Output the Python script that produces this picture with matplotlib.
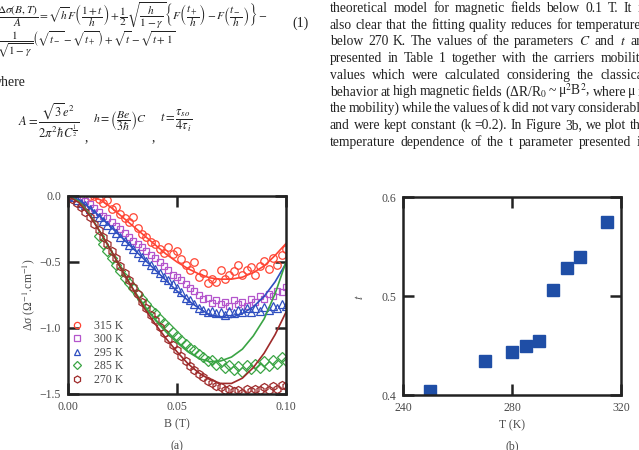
import matplotlib
matplotlib.use('Agg')
import matplotlib.pyplot as plt
from matplotlib.lines import Line2D

plt.rcParams['font.family'] = ['Liberation Serif', 'DejaVu Serif']
plt.rcParams['mathtext.fontset'] = 'stix'

W, H = 639, 450

# ---- data panel (a): conductance change vs field ----
b_data = [0.000, 0.002, 0.004, 0.006, 0.008, 0.010, 0.012, 0.014, 0.016, 0.018,
          0.020, 0.022, 0.024, 0.026, 0.028, 0.030, 0.032, 0.034, 0.036, 0.038,
          0.040, 0.042, 0.044, 0.046, 0.048, 0.050, 0.052, 0.054, 0.056, 0.058,
          0.060, 0.062, 0.064, 0.066, 0.068, 0.070, 0.072, 0.074, 0.076, 0.078,
          0.080, 0.082, 0.084, 0.086, 0.088, 0.090, 0.092, 0.094, 0.096, 0.098,
          0.100]

b_315 = b_data[5:]
s_315 = [0.00, 0.00, -0.02, -0.05, -0.03, -0.10, -0.08, -0.14, -0.17, -0.20,
         -0.16, -0.24, -0.29, -0.31, -0.35, -0.36, -0.40, -0.43, -0.39, -0.44,
         -0.42, -0.48, -0.52, -0.56, -0.50, -0.61, -0.58, -0.66, -0.63, -0.65,
         -0.56, -0.63, -0.60, -0.57, -0.52, -0.60, -0.56, -0.54, -0.60, -0.53,
         -0.49, -0.55, -0.47, -0.52, -0.45, -0.40]

b_300 = b_data[2:]
s_300 = [0.00, -0.02, -0.04, -0.06, -0.09, -0.12, -0.15, -0.17, -0.20, -0.23,
         -0.25, -0.28, -0.31, -0.34, -0.36, -0.39, -0.42, -0.45, -0.47, -0.50,
         -0.53, -0.56, -0.60, -0.61, -0.64, -0.67, -0.70, -0.72, -0.75, -0.78,
         -0.77, -0.81, -0.79, -0.82, -0.80, -0.83, -0.79, -0.82, -0.80, -0.83,
         -0.78, -0.80, -0.76, -0.78, -0.74, -0.76, -0.72, -0.73, -0.69]

b_295 = b_data
s_295 = [0.00, -0.01, -0.03, -0.05, -0.07, -0.10, -0.13, -0.16, -0.19, -0.22,
         -0.25, -0.28, -0.31, -0.34, -0.37, -0.40, -0.43, -0.46, -0.49, -0.52,
         -0.55, -0.58, -0.61, -0.64, -0.67, -0.70, -0.73, -0.77, -0.79, -0.82,
         -0.85, -0.86, -0.88, -0.87, -0.89, -0.88, -0.90, -0.87, -0.89, -0.86,
         -0.88, -0.85, -0.88, -0.85, -0.87, -0.84, -0.86, -0.83, -0.85, -0.82,
         -0.83]

b_285 = b_data[7:]
s_285 = [-0.30, -0.36, -0.42, -0.47, -0.52, -0.57, -0.62, -0.66, -0.70, -0.74,
         -0.78, -0.82, -0.86, -0.89, -0.93, -0.96, -0.99, -1.03, -1.06, -1.09,
         -1.12, -1.15, -1.17, -1.20, -1.22, -1.25, -1.24, -1.28, -1.26, -1.30,
         -1.28, -1.32, -1.29, -1.33, -1.28, -1.31, -1.27, -1.30, -1.25, -1.29,
         -1.24, -1.27, -1.22, -1.25]

b_270 = b_data
s_270 = [0.00, -0.02, -0.05, -0.08, -0.12, -0.16, -0.21, -0.26, -0.31, -0.36,
         -0.42, -0.47, -0.53, -0.58, -0.64, -0.69, -0.74, -0.80, -0.85, -0.90,
         -0.94, -0.99, -1.04, -1.08, -1.13, -1.17, -1.21, -1.25, -1.29, -1.32,
         -1.35, -1.37, -1.40, -1.42, -1.44, -1.45, -1.47, -1.46, -1.48, -1.47,
         -1.49, -1.46, -1.48, -1.46, -1.47, -1.45, -1.47, -1.44, -1.46, -1.43,
         -1.44]

# fitted curves
b_fit = [0.000, 0.005, 0.010, 0.015, 0.020, 0.025, 0.030, 0.035, 0.040, 0.045,
         0.050, 0.055, 0.060, 0.065, 0.070, 0.075, 0.080, 0.085, 0.090, 0.095,
         0.100]
f_315 = [None, None, 0.00, -0.03, -0.09, -0.16, -0.23, -0.30, -0.37, -0.44,
         -0.50, -0.55, -0.59, -0.62, -0.63, -0.63, -0.615, -0.58, -0.53, -0.45,
         -0.36]
f_295 = [0.00, -0.03, -0.09, -0.16, -0.24, -0.32, -0.40, -0.48, -0.56, -0.64,
         -0.72, -0.79, -0.85, -0.90, -0.92, -0.92, -0.89, -0.84, -0.76, -0.65,
         -0.51]
f_285 = [0.00, -0.04, -0.14, -0.28, -0.42, -0.57, -0.71, -0.83, -0.94, -1.03,
         -1.11, -1.18, -1.23, -1.255, -1.25, -1.22, -1.16, -1.06, -0.93, -0.74,
         -0.50]
f_270 = [0.00, -0.05, -0.15, -0.28, -0.42, -0.57, -0.71, -0.85, -0.97, -1.08,
         -1.18, -1.27, -1.34, -1.39, -1.42, -1.42, -1.38, -1.30, -1.19, -1.05,
         -0.88]

# ---- data panel (b): t parameter vs temperature ----
temps = [250, 270, 280, 285, 290, 295, 300, 305, 315]
t_vals = [0.404, 0.434, 0.443, 0.450, 0.455, 0.506, 0.528, 0.539, 0.575]

c_red = '#ff4433'
c_pur = '#b455cc'
c_blu = '#2f4fc0'
c_grn = '#3aa444'
c_drd = '#9e2a2a'
c_sq = '#1f4ea6'
txt_gray = '#4a4a4a'
ink = '#222222'

fig = plt.figure(figsize=(W / 100, H / 100), dpi=100)


def px(x, y):
    return x / W, 1 - y / H


def style_axes(ax):
    for s in ax.spines.values():
        s.set_linewidth(1.8)
        s.set_color(ink)
    ax.tick_params(direction='in', length=8, width=1.8, color=ink,
                   top=True, right=True, labelsize=8.5, labelcolor=txt_gray, pad=5)


# panel (a)
ax1 = fig.add_axes([68 / W, 1 - 394 / H, 218 / W, 198 / H])
ax1.plot(b_315, s_315, ls='none', marker='o', ms=5.4, mfc='none', mec=c_red, mew=0.9)
ax1.plot(b_300, s_300, ls='none', marker='s', ms=4.5, mfc='none', mec=c_pur, mew=0.9)
ax1.plot(b_295, s_295, ls='none', marker='^', ms=5.2, mfc='none', mec=c_blu, mew=0.9)
ax1.plot(b_285, s_285, ls='none', marker='D', ms=4.8, mfc='none', mec=c_grn, mew=0.9)
ax1.plot(b_270, s_270, ls='none', marker='h', ms=5.8, mfc='none', mec=c_drd, mew=0.9)
ax1.plot(b_fit[2:], f_315[2:], color=c_red, lw=1.2)
ax1.plot(b_fit, f_295, color=c_blu, lw=1.2)
ax1.plot(b_fit, f_285, color=c_grn, lw=1.2)
ax1.plot(b_fit, f_270, color=c_drd, lw=1.2)
ax1.set_xlim(0, 0.1)
ax1.set_ylim(-1.5, 0)
ax1.set_xticks([0, 0.05, 0.1])
ax1.set_xticklabels(['0.00', '0.05', '0.10'])
ax1.set_yticks([-1.5, -1.0, -0.5, 0.0])
ax1.set_yticklabels(['\u22121.5', '\u22121.0', '\u22120.5', '0.0'])
style_axes(ax1)
ax1.set_xlabel('B (T)', fontsize=8.5, color=txt_gray, labelpad=4)
ax1.set_ylabel('\u0394\u03c3 (\u03a9$^{-1}$.cm$^{-1}$)', fontsize=8.5, color=txt_gray, labelpad=2)

handles = [
    Line2D([], [], ls='none', marker='o', ms=4.5, mfc='none', mec=c_red, mew=0.9),
    Line2D([], [], ls='none', marker='s', ms=3.8, mfc='none', mec=c_pur, mew=0.9),
    Line2D([], [], ls='none', marker='^', ms=4.5, mfc='none', mec=c_blu, mew=0.9),
    Line2D([], [], ls='none', marker='D', ms=4.2, mfc='none', mec=c_grn, mew=0.9),
    Line2D([], [], ls='none', marker='h', ms=5.0, mfc='none', mec=c_drd, mew=0.9),
]
leg = ax1.legend(handles, ['315 K', '300 K', '295 K', '285 K', '270 K'],
                 loc='lower left', bbox_to_anchor=(-0.02, 0.0), frameon=False,
                 fontsize=8.5, handlelength=0.8, handletextpad=1.1,
                 labelspacing=0.12, borderaxespad=0.3)
for t in leg.get_texts():
    t.set_color(txt_gray)

# panel (b)
ax2 = fig.add_axes([403 / W, 1 - 395 / H, 218 / W, 198 / H])
ax2.plot(temps, t_vals, ls='none', marker='s', ms=8, color=c_sq)
ax2.set_xlim(240, 320)
ax2.set_ylim(0.4, 0.6)
ax2.set_xticks([240, 280, 320])
ax2.set_yticks([0.4, 0.5, 0.6])
style_axes(ax2)
ax2.set_xlabel('T (K)', fontsize=8.5, color=txt_gray, labelpad=4)
fig.text(*px(360, 297), '$t$', fontsize=9, color=txt_gray, rotation=90,
         ha='center', va='center')

fig.text(*px(177, 446), '(a)', fontsize=8.5, color=txt_gray, ha='center', va='center')
fig.text(*px(512, 446), '(b)', fontsize=8.5, color=txt_gray, ha='center', va='center')

# ---- page text above the figure ----
eq_kw = dict(color=ink, va='center', ha='left')
fig.text(*px(-3, 15),
         r'$\dfrac{\Delta\sigma(B,T)}{A}=\sqrt{h}F\left(\dfrac{1+t}{h}\right)+\dfrac{1}{2}'
         r'\sqrt{\dfrac{h}{1-\gamma}}\left\{F\left(\dfrac{t_+}{h}\right)-'
         r'F\left(\dfrac{t_-}{h}\right)\right\}-$', fontsize=8.2, **eq_kw)
fig.text(*px(-3, 44),
         r'$\dfrac{1}{\sqrt{1-\gamma}}\left(\sqrt{t_-}-\sqrt{t_+}\right)+\sqrt{t}-\sqrt{t+1}$',
         fontsize=8.0, **eq_kw)
fig.text(*px(292, 23), '(1)', fontsize=10, **eq_kw)
fig.text(*px(-8, 83), 'where', fontsize=10, **eq_kw)
fig.text(*px(18, 121), r'$A=\dfrac{\sqrt{3}e^2}{2\pi^2\hbar C^{\frac{1}{2}}}$',
         fontsize=9, **eq_kw)
fig.text(*px(85, 138), ',', fontsize=10, **eq_kw)
fig.text(*px(93, 121), r'$h=\left(\dfrac{Be}{3\hbar}\right)C$', fontsize=8.5, **eq_kw)
fig.text(*px(152, 138), ',', fontsize=10, **eq_kw)
fig.text(*px(160, 121), r'$t=\dfrac{\tau_{so}}{4\tau_i}$', fontsize=9, **eq_kw)

body = [
    'theoretical model for magnetic fields below 0.1 T. It is',
    'also clear that the fitting quality reduces for temperatures',
    'below 270 K. The values of the parameters $C$ and $t$ are',
    'presented in Table 1 together with the carriers mobility',
    'values which were calculated considering the classical',
    'behavior at high magnetic fields (\u0394R/R$_0$ ~ \u03bc$^2$B$^2$, where \u03bc is',
    'the mobility) while the values of k did not vary considerably',
    'and were kept constant (k =0.2). In Figure 3b, we plot the',
    'temperature dependence of the t parameter presented in',
]

renderer = fig.canvas.get_renderer()
x_left, x_right = 330, 647
for i, line in enumerate(body):
    y = 12 + i * 16.7
    words = line.split(' ')
    items = [fig.text(0, 0, w, fontsize=9.8, color=ink, va='baseline', ha='left')
             for w in words]
    widths = [t.get_window_extent(renderer).width for t in items]
    gap = (x_right - x_left - sum(widths)) / (len(words) - 1)
    x = x_left
    for t, w in zip(items, widths):
        t.set_position(px(x, y))
        x += w + gap

fig.savefig('out.png', dpi=100)
